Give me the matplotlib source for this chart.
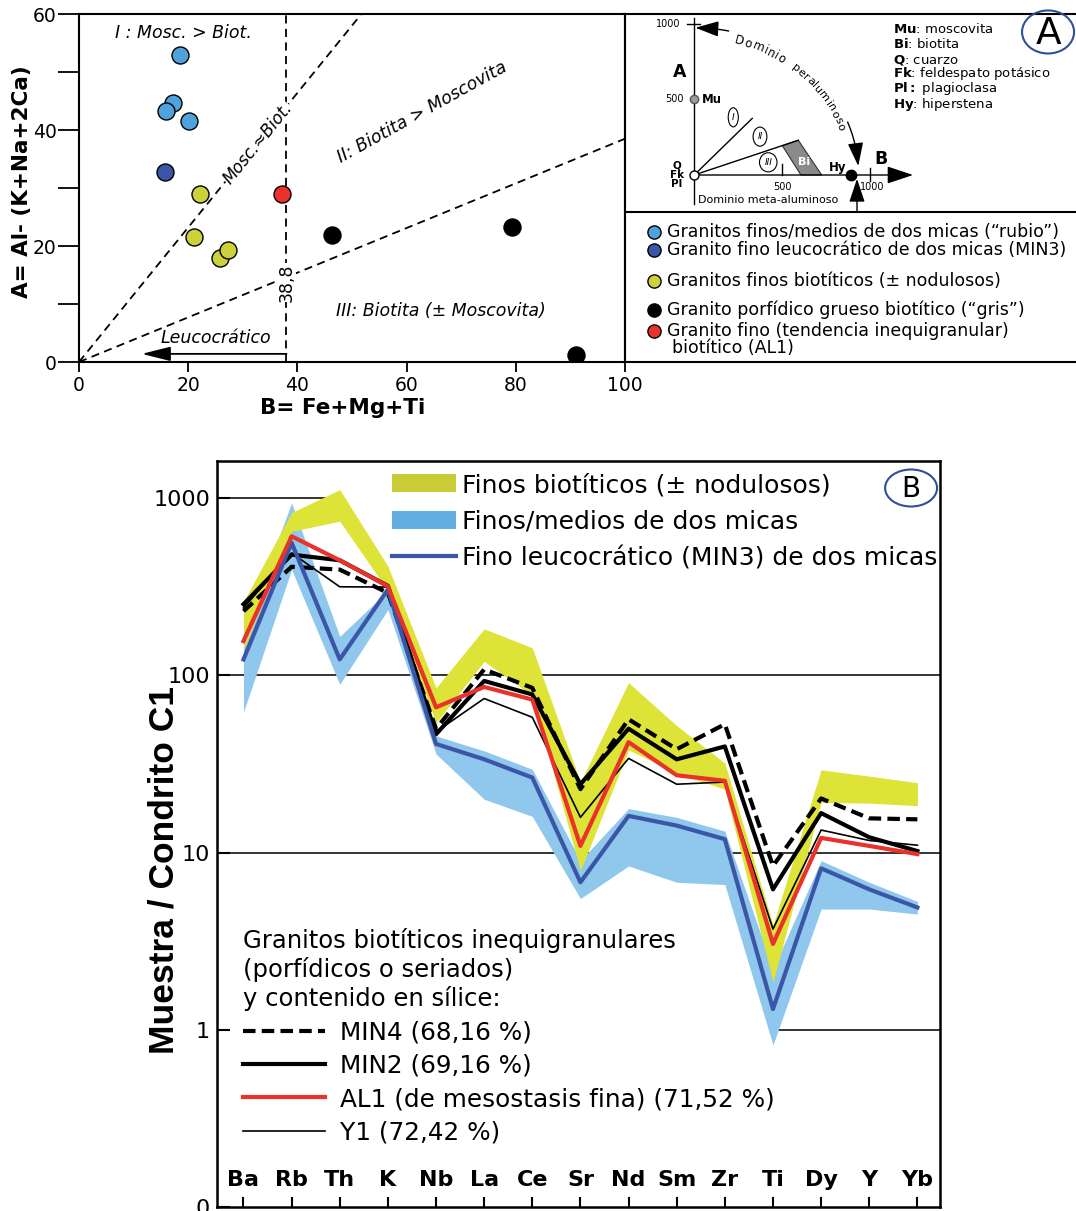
import numpy as np
import matplotlib.pyplot as plt
import matplotlib.transforms as mtransforms
from matplotlib.patches import Ellipse, Polygon, Patch
from matplotlib.lines import Line2D
from matplotlib.ticker import NullLocator
from matplotlib.textpath import text_to_path
from matplotlib.font_manager import FontProperties

W, H = 1076, 1211

# ---------- A: diagrama A-B ----------
rubio_b = [18.5, 17.3, 15.9, 20.2]
rubio_a = [52.9, 44.6, 43.3, 41.5]
min3_b = [15.8]
min3_a = [32.7]
finos_b = [22.2, 21.1, 25.9, 27.2]
finos_a = [28.9, 21.6, 18.0, 19.3]
gris_b = [46.3, 79.3, 91.1]
gris_a = [21.9, 23.2, 1.2]
al1_b = [37.1]
al1_a = [28.9]

group_labels = ['Granitos finos/medios de dos micas (“rubio”)',
                'Granito fino leucocrático de dos micas (MIN3)',
                'Granitos finos biotíticos (± nodulosos)',
                'Granito porfídico grueso biotítico (“gris”)',
                'Granito fino (tendencia inequigranular)']
group_colors = ['#4fa2dc', '#3c55a6', '#cdd13a', '#000000', '#e8322a']

slope_I = 1.16     # Mosc. = Biot.
slope_II = 0.385   # limite II / III
b_leuco = 38.0

# ---------- B: diagrama multielemental ----------
elements = ['Ba', 'Rb', 'Th', 'K', 'Nb', 'La', 'Ce', 'Sr', 'Nd', 'Sm', 'Zr', 'Ti', 'Dy', 'Y', 'Yb']
min4 = [230, 410, 395, 292, 50, 108, 85, 22.8, 56.5, 38.3, 53, 8.4, 20.2, 15.6, 15.4]
min2 = [252, 480, 446, 320, 46.5, 93, 78, 24.3, 50, 33.6, 39.7, 6.2, 16.7, 12.2, 10.2]
al1 = [156, 609, 446, 318, 66, 86, 73, 10.9, 42, 27.3, 25.4, 3.05, 12.1, 10.9, 9.8]
y1 = [240, 490, 316, 315, 48, 74, 58, 15.8, 34, 24.3, 25, 3.7, 13.4, 11.7, 11.0]
min3 = [123, 560, 123, 305, 41, 33.6, 26.5, 6.8, 16.1, 14.2, 11.9, 1.31, 8.15, 6.2, 4.9]
biot_lo = [140, 650, 741, 300, 54, 120, 77, 7.9, 38, 28, 22.8, 1.86, 19.2, 19, 18.4]
biot_hi = [260, 829, 1117, 413, 85, 183, 143, 25, 91, 52, 32, 3.9, 29.3, 27, 24.8]
micas_lo = [62, 395, 89, 235, 36, 20, 16, 5.5, 8.4, 6.8, 6.6, 0.82, 4.8, 4.8, 4.5]
micas_hi = [175, 940, 166, 300, 45.5, 37.5, 29.5, 9, 17.7, 15.8, 13.2, 2.2, 9.0, 6.8, 5.3]


def box(x0, y0, x1, y1):
    return [x0 / W, 1 - y1 / H, (x1 - x0) / W, (y1 - y0) / H]


fig = plt.figure(figsize=(W / 100, H / 100), dpi=100)

# ================= panel A (scatter) =================
ax1 = fig.add_axes(box(79, 14, 625, 362))
groups = [(rubio_b, rubio_a), (min3_b, min3_a), (finos_b, finos_a), (gris_b, gris_a), (al1_b, al1_a)]
for (bv, av), col in zip(groups, group_colors):
    ax1.scatter(bv, av, s=150, color=col, edgecolors='black', linewidths=1.0, zorder=5)

bb = np.array([0, 100])
dash = (0, (4.5, 3))
ax1.plot(bb, slope_I * bb, color='black', lw=1.3, ls=dash)
ax1.plot(bb, slope_II * bb, color='black', lw=1.3, ls=dash)
ax1.axvline(b_leuco, color='black', lw=1.3, ls=dash)
ax1.annotate('', xy=(11.5, 1.4), xytext=(b_leuco, 1.4),
             arrowprops=dict(arrowstyle='-|>,head_length=0.8,head_width=0.2', mutation_scale=22,
                             color='black', lw=1.3, shrinkA=0, shrinkB=0))
ax1.set_xlim(0, 100)
ax1.set_ylim(0, 60)

ax1.text(19.1, 56.8, 'I : Mosc. > Biot.', style='italic', fontsize=12.5, ha='center', va='center')
ax1.text(32.7, 37.7, 'Mosc.≈Biot.', style='italic', fontsize=12, rotation=51, rotation_mode='anchor',
         ha='center', va='center', bbox=dict(fc='white', ec='none', pad=0.3))
ax1.text(62.9, 43.1, 'II: Biotita > Moscovita', style='italic', fontsize=12.5, rotation=29,
         rotation_mode='anchor', ha='center', va='center')
ax1.text(66.2, 8.8, 'III: Biotita (± Moscovita)', style='italic', fontsize=12.5, ha='center', va='center')
ax1.text(25, 4.1, 'Leucocrático', style='italic', fontsize=12.5, ha='center', va='center')
ax1.text(b_leuco, 13.7, '38,8', fontsize=12.5, rotation=90, ha='center', va='center',
         bbox=dict(fc='white', ec='none', pad=0.5))

ax1.set_xticks(range(0, 101, 20))
ax1.set_yticks(range(0, 61, 10))
ax1.set_yticklabels(['0', '', '20', '', '40', '', '60'])
ax1.tick_params(axis='x', direction='out', length=7, width=1.3, labelsize=13.5, pad=3)
ax1.tick_params(axis='y', direction='out', length=15, width=1.3, labelsize=13.5, pad=1)
for s in ax1.spines.values():
    s.set_linewidth(1.5)
ax1.set_xlabel('B= Fe+Mg+Ti', fontsize=15.5, fontweight='bold')
ax1.xaxis.set_label_coords(0.483, -0.103)
ax1.set_ylabel('A= Al- (K+Na+2Ca)', fontsize=15.5, fontweight='bold')
ax1.yaxis.set_label_coords(-0.086, 0.517)

# ================= panel A (right box) =================
ax2 = fig.add_axes(box(625, 14, 1076, 362))
ax2.set_xlim(0, 1)
ax2.set_ylim(0, 1)
ax2.set_xticks([])
ax2.set_yticks([])
ax2.spines['right'].set_visible(False)
for s in ax2.spines.values():
    s.set_linewidth(1.5)
ax2.axhline((362 - 212) / 348, color='black', lw=1.5)


def fx(px):
    return (px - 625) / 451


def fy(py):
    return (362 - py) / 348


rows = [232, 250, 281, 310, 331]
for lab, col, py in zip(group_labels, group_colors, rows):
    ax2.plot(fx(654), fy(py), 'o', ms=9.5, mfc=col, mec='black', mew=1.0)
    ax2.text(fx(667), fy(py), lab, fontsize=12.5, ha='left', va='center')
ax2.text(fx(672), fy(348), 'biotítico (AL1)', fontsize=12.5, ha='left', va='center')

# ---- inset scheme A-B
axi = fig.add_axes(box(625, 14, 1076, 212))
axi.set_xlim(-394, 2172)
axi.set_ylim(-245, 1066)
axi.axis('off')

axi.plot([0, 0], [-190, 1040], color='black', lw=1.0)
axi.plot([-40, 30], [1000, 1000], color='black', lw=1.0)
axi.text(-80, 1000, '1000', fontsize=7, ha='right', va='center')
axi.text(-60, 500, '500', fontsize=7, ha='right', va='center')
axi.plot([0], [500], 'o', ms=6, mfc='#9a9a9a', mec='#555555', zorder=6)
axi.text(45, 500, 'Mu', fontsize=8.5, fontweight='bold', ha='left', va='center')
axi.annotate('', xy=(1245, 0), xytext=(0, 0),
             arrowprops=dict(arrowstyle='-|>,head_length=0.9,head_width=0.3', mutation_scale=18,
                             color='black', lw=1.0, shrinkA=0, shrinkB=0))
axi.plot([500, 500], [0, 70], color='black', lw=1.0)
axi.plot([1000, 1000], [-40, 45], color='black', lw=1.0)
axi.text(500, -80, '500', fontsize=7, ha='center', va='center')
axi.text(1010, -80, '1000', fontsize=7, ha='center', va='center')
axi.plot([0, 330], [0, 375], color='black', lw=1.0)
axi.plot([0, 592], [0, 230], color='black', lw=1.0)
axi.add_patch(Polygon([(501, 194), (592, 230), (725, 0), (607, 0)], closed=True,
                      fc='#8a8a8a', ec='#333333', lw=0.8))
axi.text(625, 84, 'Bi', color='white', fontsize=8, fontweight='bold', ha='center', va='center')
for txt, (u, v) in [('I', (222, 382)), ('II', (374, 254)), ('III', (421, 84))]:
    axi.text(u, v, txt, style='italic', fontsize=6.5, ha='center', va='center',
             bbox=dict(boxstyle='ellipse,pad=0.25', fc='white', ec='black', lw=0.8))
axi.plot([0], [0], 'o', ms=6.5, mfc='white', mec='black', mew=1.0, zorder=6)
axi.plot([892], [0], 'o', ms=7.5, color='black', zorder=6)
axi.text(816, 48, 'Hy', fontsize=8.5, fontweight='bold', ha='center', va='center')
axi.text(-100, 66, 'Q', fontsize=7.5, fontweight='bold', ha='center', va='center')
axi.text(-100, 0, 'Fk', fontsize=7.5, fontweight='bold', ha='center', va='center')
axi.text(-100, -62, 'Pl', fontsize=7.5, fontweight='bold', ha='center', va='center')
axi.text(-81, 684, 'A', fontsize=12.5, fontweight='bold', ha='center', va='center')
axi.text(1062, 104, 'B', fontsize=12.5, fontweight='bold', ha='center', va='center')
axi.text(421, -166, 'Dominio meta-aluminoso', fontsize=8, ha='center', va='center')
axi.annotate('', xy=(926, -25), xytext=(926, -245),
             arrowprops=dict(arrowstyle='-|>,head_length=0.9,head_width=0.3', mutation_scale=16,
                             color='black', lw=1.0, shrinkA=0, shrinkB=0))

# arco "Dominio peraluminoso"
rx, ry = 935, 975
sx, sy = 451 / 2566, 198 / 1311


def arc_pt(t, k=1.0):
    t = np.radians(t)
    return k * rx * np.cos(t), k * ry * np.sin(t)


ta = np.radians(np.linspace(78, 87, 30))
axi.plot(rx * np.cos(ta), ry * np.sin(ta), color='black', lw=1.0)
ta = np.radians(np.linspace(8, 21, 30))
axi.plot(rx * np.cos(ta), ry * np.sin(ta), color='black', lw=1.0)
axi.annotate('', xy=arc_pt(89.6), xytext=arc_pt(84),
             arrowprops=dict(arrowstyle='-|>,head_length=0.9,head_width=0.3', mutation_scale=16,
                             color='black', lw=1.0, shrinkA=0, shrinkB=0))
axi.annotate('', xy=arc_pt(3.5), xytext=arc_pt(9),
             arrowprops=dict(arrowstyle='-|>,head_length=0.9,head_width=0.3', mutation_scale=16,
                             color='black', lw=1.0, shrinkA=0, shrinkB=0))


def text_on_arc(s, t_start, k, fs, spacing=1.08):
    prop = FontProperties(size=fs)
    tt = np.radians(np.linspace(t_start, t_start - 70, 2000))
    speed = np.hypot(k * rx * sx * np.sin(tt), k * ry * sy * np.cos(tt))   # px per rad
    seg = np.concatenate([[0], np.cumsum(0.5 * (speed[1:] + speed[:-1]) * np.abs(np.diff(tt)))])
    for i, ch in enumerate(s):
        w0 = text_to_path.get_text_width_height_descent(s[:i], prop, ismath=False)[0] if i else 0
        w1 = text_to_path.get_text_width_height_descent(s[:i + 1], prop, ismath=False)[0]
        sc = 0.5 * (w0 + w1) * spacing * 100 / 72
        t = np.interp(sc, seg, tt)
        rot = np.degrees(np.arctan2(-ry * sy * np.cos(t), rx * sx * np.sin(t)))
        axi.text(k * rx * np.cos(t), k * ry * np.sin(t), ch, fontsize=fs, rotation=rot,
                 rotation_mode='anchor', ha='center', va='center')


text_on_arc('Dominio', 75, 0.95, 8.5, 1.12)
text_on_arc('peraluminoso', 51, 0.95, 8)

inset_keys = [('Mu', ': moscovita'), ('Bi', ': biotita'), ('Q', ': cuarzo'),
              ('Fk', ': feldespato potásico'), ('Pl:', ' plagioclasa'), ('Hy', ': hiperstena')]
for (k, rest), v in zip(inset_keys, [967, 868, 762, 669, 570, 470]):
    axi.text(1131, v, r'$\mathbf{' + k + '}$' + rest, fontsize=9.5, ha='left', va='center')

axi.add_patch(Ellipse((2013, 947), 296, 285, fill=False, ec='#2f4f9b', lw=1.5, clip_on=False))
axi.text(2013, 935, 'A', fontsize=27, ha='center', va='center', clip_on=False)

# ================= panel B =================
ax3 = fig.add_axes(box(217, 461, 940, 1207))
x = np.arange(len(elements))
ax3.set_yscale('log')
xlo, xhi = -0.55, 14.47
ax3.set_xlim(xlo, xhi)
ax3.set_ylim(0.1, 1620)

gcol = '#333333'
ax3.axhline(10, color=gcol, lw=1.4, zorder=0.5)
ax3.axhline(100, color=gcol, lw=1.4, zorder=0.5)
ax3.axhline(1000, xmax=(2 - xlo) / (xhi - xlo), color=gcol, lw=1.4, zorder=0.5)
ax3.axhline(1, xmin=(11.1 - xlo) / (xhi - xlo), color=gcol, lw=1.4, zorder=0.5)

ax3.fill_between(x, micas_lo, micas_hi, color='#8fc8ec', lw=0, zorder=1)
ax3.fill_between(x, biot_lo, biot_hi, color='#dde337', lw=0, zorder=2)
ax3.plot(x, y1, color='black', lw=1.2, zorder=3)
ax3.plot(x, min4, color='black', lw=3, ls=(0, (3, 1.5)), zorder=3)
ax3.plot(x, min2, color='black', lw=3, zorder=3)
ax3.plot(x, min3, color='#3b55a7', lw=3, zorder=4)
ax3.plot(x, al1, color='#e8322a', lw=3, zorder=4)

trans = mtransforms.blended_transform_factory(ax3.transData, ax3.transAxes)
for i, el in enumerate(elements):
    ax3.text(i, 0.036, el, transform=trans, ha='center', va='center', fontsize=16, fontweight='bold')
ax3.set_xticks(x)
ax3.set_xticklabels([])
ax3.tick_params(axis='x', direction='in', length=7, width=1.5)
ax3.set_yticks([0.1, 1, 10, 100, 1000])
ax3.set_yticklabels(['0', '1', '10', '100', '1000'])
ax3.yaxis.set_minor_locator(NullLocator())
ax3.tick_params(axis='y', direction='in', length=9, width=1.5, labelsize=16, pad=5)
for s in ax3.spines.values():
    s.set_linewidth(1.8)
ax3.set_ylabel('Muestra / Condrito C1', fontsize=25.5, fontweight='bold',
               family=['Liberation Sans', 'DejaVu Sans'])
ax3.yaxis.set_label_coords(-0.050, 0.452)

h1 = [Patch(fc='#c9cc36', ec='none'), Patch(fc='#64afe1', ec='none'),
      Line2D([], [], color='#3b55a7', lw=3)]
l1 = ['Finos biotíticos (± nodulosos)', 'Finos/medios de dos micas', 'Fino leucocrático (MIN3) de dos micas']
leg1 = ax3.legend(h1, l1, loc='upper left', bbox_to_anchor=(0.2351, 0.9906), fontsize=18,
                  frameon=False, handlelength=2.55, handleheight=0.72, handletextpad=0.25,
                  labelspacing=0.5, borderpad=0.2, borderaxespad=0)
ax3.add_artist(leg1)

h2 = [Line2D([], [], color='black', lw=3, ls=(0, (3, 1.5))), Line2D([], [], color='black', lw=3),
      Line2D([], [], color='#e8322a', lw=3), Line2D([], [], color='black', lw=1.2)]
l2 = ['MIN4 (68,16 %)', 'MIN2 (69,16 %)', 'AL1 (de mesostasis fina) (71,52 %)', 'Y1 (72,42 %)']
ax3.legend(h2, l2, title='Granitos biotíticos inequigranulares\n(porfídicos o seriados)\ny contenido en sílice:',
           title_fontsize=17.5, fontsize=17.8, alignment='left', loc='upper left',
           bbox_to_anchor=(0.0295, 0.3807), frameon=False, handlelength=3.3, handletextpad=0.62,
           labelspacing=0.38, borderpad=0.2, borderaxespad=0)

ax3.add_patch(Ellipse((0.96, 0.9638), 0.0719, 0.0496, transform=ax3.transAxes, fill=False,
                      ec='#2f4f9b', lw=1.5, zorder=6))
ax3.text(0.96, 0.9625, 'B', transform=ax3.transAxes, fontsize=20, ha='center', va='center', zorder=6)

fig.savefig('out.png', dpi=100)
